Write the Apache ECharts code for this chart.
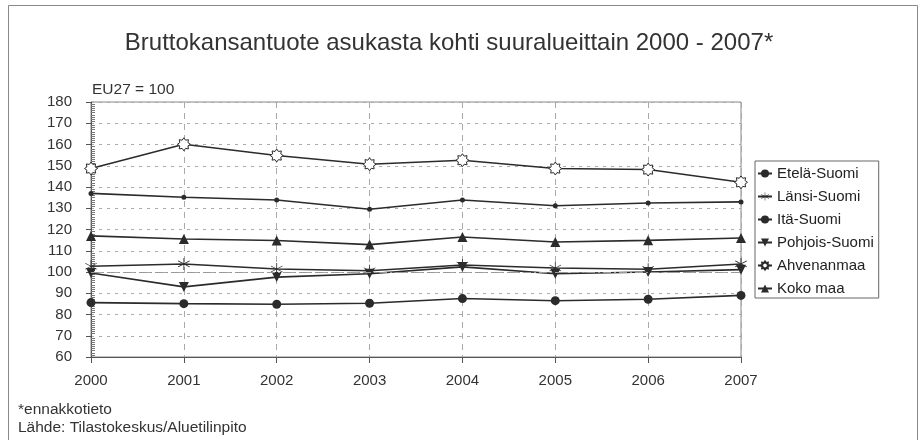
<!DOCTYPE html>
<html><head><meta charset="utf-8">
<script src="https://cdn.jsdelivr.net/npm/echarts@6/dist/echarts.min.js"></script>
<style>html,body{margin:0;padding:0;background:#fff}#c{width:920px;height:440px}</style>
</head><body><div id="c"></div>
<script>
const years = ['2000','2001','2002','2003','2004','2005','2006','2007'];
const seriesNames = ['Etelä-Suomi','Länsi-Suomi','Itä-Suomi','Pohjois-Suomi','Ahvenanmaa','Koko maa'];
const etelaSuomi    = [137.0, 135.2, 133.9, 129.5, 133.9, 131.2, 132.5, 133.0];
const lansiSuomi    = [102.7, 103.8, 101.4, 100.6, 103.3, 101.9, 101.3, 103.8];
const itaSuomi      = [85.6, 85.1, 84.8, 85.3, 87.5, 86.5, 87.2, 89.0];
const pohjoisSuomi  = [99.5, 93.0, 97.6, 99.2, 102.4, 99.2, 100.0, 101.1];
const ahvenanmaa    = [148.7, 160.1, 154.8, 150.7, 152.6, 148.7, 148.2, 142.2];
const kokoMaa       = [117.0, 115.5, 114.8, 112.9, 116.5, 114.1, 114.9, 116.0];
const yTicks = [60,70,80,90,100,110,120,130,140,150,160,170,180];
const euLevel = 100;

const FONT = '"Liberation Sans", Arial, Helvetica, sans-serif';
const INK = '#2b2b2b';

// symbol shapes
const asterisk = 'path://M9.4 0 L10.6 0 L10.6 20 L9.4 20 Z M1.04 5.52 L1.64 4.48 L18.96 14.48 L18.36 15.52 Z M1.64 15.52 L1.04 14.48 L18.36 4.48 L18.96 5.52 Z';
function sunPath(){
  const n = 8, R = 10, r = 6.8; let s = 'path://';
  for (let i = 0; i < n*2; i++){
    const rad = (i % 2 === 0) ? R : r;
    const a = Math.PI * i / n - Math.PI/2;
    s += (i === 0 ? 'M' : 'L') + (10 + rad*Math.cos(a)).toFixed(2) + ' ' + (10 + rad*Math.sin(a)).toFixed(2) + ' ';
  }
  return s + 'Z';
}
const sun = sunPath();

const dataList = [etelaSuomi, lansiSuomi, itaSuomi, pohjoisSuomi, ahvenanmaa, kokoMaa];
const symbolCfg = [
  {symbol:'circle', size:5, fill:INK},
  {symbol:asterisk, size:12, fill:INK},
  {symbol:'circle', size:9, fill:INK},
  {symbol:'triangle', size:10, fill:INK, rotate:180},
  {symbol:sun, size:13, fill:'#fff', border:INK},
  {symbol:'triangle', size:10, fill:INK}
];

const series = seriesNames.map((name, i) => {
  const c = symbolCfg[i];
  const s = {
    name, type:'line', data:dataList[i],
    symbol:c.symbol, symbolSize:c.size, symbolRotate:c.rotate || 0,
    showAllSymbol:true,
    lineStyle:{color:INK, width:1.6},
    itemStyle:{color:c.fill, borderColor:c.border || INK, borderWidth:c.border ? 1 : 0},
    emphasis:{disabled:true}, animation:false, z: 3
  };
  if (i === 0) {
    s.markLine = {
      silent:true, symbol:'none', label:{show:false}, animation:false,
      lineStyle:{color:'#999', width:1, type:[8,3,2,3]},
      data:[{yAxis:euLevel}]
    };
  }
  return s;
});

const chart = echarts.init(document.getElementById('c'), null, {renderer:'canvas'});
chart.setOption({
  animation:false,
  backgroundColor:'#fff',
  textStyle:{fontFamily:FONT},
  grid:{left:91, right:179, top:102, bottom:83, show:true, borderColor:'#888', borderWidth:1, containLabel:false},
  xAxis:{
    type:'category', data:years, boundaryGap:false,
    axisLine:{lineStyle:{color:'#555', width:1}},
    axisTick:{show:true, length:6, lineStyle:{color:'#555'}},
    axisLabel:{color:'#333', fontSize:15, fontFamily:FONT, margin:16},
    splitLine:{show:true, lineStyle:{color:'#aaa', type:[6,5], width:1}}
  },
  yAxis:{
    type:'value', min:yTicks[0], max:yTicks[yTicks.length-1], interval:10,
    axisLine:{show:true, lineStyle:{color:'#555', width:1}},
    axisTick:{show:true, length:5, lineStyle:{color:'#555'}},
    minorTick:{show:true, splitNumber:10, length:-4, lineStyle:{color:'#777'}},
    axisLabel:{color:'#333', fontSize:15, fontFamily:FONT, margin:19},
    splitLine:{show:true, lineStyle:{color:'#aaa', type:[3,5], width:1}}
  },
  legend:{
    orient:'vertical', left:755, top:161,
    data:seriesNames,
    itemWidth:14, itemHeight:10, itemGap:8,
    padding:[5,5,2,2],
    borderColor:'#666', borderWidth:1,
    textStyle:{color:'#222', fontSize:15, fontFamily:FONT},
    selectedMode:false
  },
  graphic:[
    {type:'rect', shape:{x:8.5, y:5.5, width:909, height:450}, style:{fill:'none', stroke:'#888', lineWidth:1}, silent:true, z:-1},
    {type:'text', x:449, y:43, style:{text:'Bruttokansantuote asukasta kohti suuralueittain 2000 - 2007*', font:'24px '+FONT, fill:'#333', textAlign:'center', textVerticalAlign:'middle'}},
    {type:'text', x:92, y:90, style:{text:'EU27 = 100', font:'15.5px '+FONT, fill:'#333', textAlign:'left', textVerticalAlign:'middle'}},
    {type:'text', x:18, y:410, style:{text:'*ennakkotieto', font:'15.5px '+FONT, fill:'#333', textAlign:'left', textVerticalAlign:'middle'}},
    {type:'text', x:18, y:428, style:{text:'Lähde: Tilastokeskus/Aluetilinpito', font:'15.5px '+FONT, fill:'#333', textAlign:'left', textVerticalAlign:'middle'}}
  ],
  series
});
</script></body></html>
